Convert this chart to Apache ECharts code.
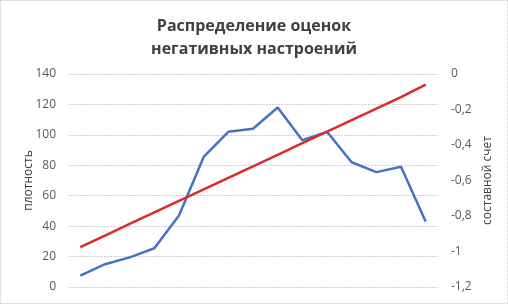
<!DOCTYPE html>
<html><head><meta charset="utf-8">
<script src="https://cdn.jsdelivr.net/npm/echarts@6/dist/echarts.min.js"></script>
<style>
html,body{margin:0;padding:0;background:#fff;}
#c{width:508px;height:304px;box-sizing:border-box;border:1px dotted #c8c8c8;}
</style></head>
<body><div id="c"></div>
<script>
const titleText = 'Распределение оценок\nнегативных настроений';
const categories = ['1','2','3','4','5','6','7','8','9','10','11','12','13','14','15'];
const density = [7.5, 15, 19.5, 25.5, 47, 85.5, 102, 104, 118, 96.5, 102, 82, 75.5, 79, 43];
const compositeScore = [-0.975, -0.91, -0.845, -0.78, -0.715, -0.65, -0.585, -0.52, -0.455, -0.39, -0.325, -0.26, -0.195, -0.13, -0.06];
const leftName = 'плотность';
const rightName = 'составной счет';

const chart = echarts.init(document.getElementById('c'));
const lbl = {color:'#595959', fontSize:12, fontFamily:'Open Sans'};
chart.setOption({
  animation:false,
  title:{text:titleText, left:'center', top:9, textStyle:{fontFamily:'Open Sans', fontSize:16, fontWeight:'bold', color:'#404040', lineHeight:23}},
  grid:{left:67, right:69, top:73, bottom:16},
  xAxis:{type:'category', data:categories, boundaryGap:true,
    axisLine:{show:false}, axisTick:{show:false}, axisLabel:{show:false}},
  yAxis:[
    {type:'value', min:0, max:140, interval:20, name:leftName, nameLocation:'middle', nameGap:33, nameMoveOverlap:false,
     nameTextStyle:{color:'#404040', fontSize:12, fontFamily:'Open Sans'},
     axisLine:{show:false}, axisTick:{show:false},
     axisLabel:Object.assign({margin:12}, lbl),
     splitLine:{lineStyle:{color:'#d0d0d0', type:[2,1], width:1}}},
    {type:'value', min:-1.2, max:0, interval:0.2, name:rightName, nameLocation:'middle', nameGap:44, nameMoveOverlap:false,
     nameTextStyle:{color:'#404040', fontSize:12, fontFamily:'Open Sans'},
     axisLine:{show:false}, axisTick:{show:false}, splitLine:{show:false},
     axisLabel:Object.assign({margin:13, formatter:v=>{const r=Math.round(v*10)/10; return String(r).replace('.',',');}}, lbl)}
  ],
  series:[
    {type:'line', yAxisIndex:0, data:density, symbol:'none', lineStyle:{color:'#4472C4', width:2.5}, itemStyle:{color:'#4472C4'}},
    {type:'line', yAxisIndex:1, data:compositeScore, symbol:'none', lineStyle:{color:'#D92B2B', width:2.5}, itemStyle:{color:'#D92B2B'}}
  ]
});
</script></body></html>
